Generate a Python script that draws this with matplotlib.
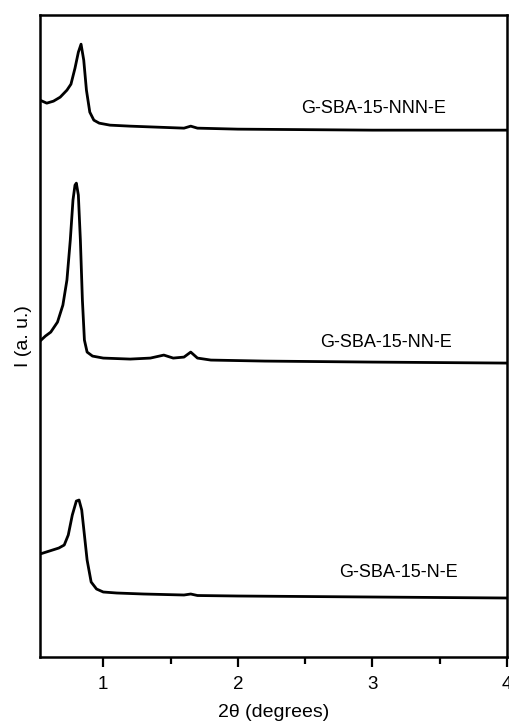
import matplotlib.pyplot as plt

# 2theta positions and intensities (arbitrary units, curves already offset)
x_nnn = [0.53, 0.58, 0.63, 0.68, 0.73, 0.76, 0.79, 0.815, 0.835, 0.855, 0.875,
         0.90, 0.93, 0.97, 1.05, 1.2, 1.4, 1.6, 1.65, 1.7, 2.0, 2.5, 3.0, 4.0]
i_nnn = [557, 554, 556, 560, 567, 573, 589, 605, 613, 597, 567,
         545, 537, 534, 532, 531, 530, 529, 531, 529, 528, 527.5, 527, 527]

x_nn = [0.53, 0.57, 0.61, 0.66, 0.70, 0.73, 0.755, 0.775, 0.79, 0.80, 0.815,
        0.83, 0.845, 0.86, 0.88, 0.92, 1.0, 1.2, 1.35, 1.45, 1.52, 1.6, 1.65,
        1.7, 1.8, 2.2, 3.0, 4.0]
i_nn = [316, 321, 325, 335, 352, 377, 417, 457, 472, 474, 462,
        417, 357, 317, 305, 301, 299, 298, 299, 302, 299, 300, 305,
        299, 297, 296, 295, 294]

x_n = [0.53, 0.6, 0.67, 0.71, 0.74, 0.77, 0.80, 0.82, 0.84, 0.86, 0.88,
       0.91, 0.95, 1.0, 1.1, 1.3, 1.6, 1.65, 1.7, 2.0, 3.0, 4.0]
i_n = [103, 106, 109, 112, 122, 142, 156, 157, 147, 122, 97,
       75, 68, 65, 64, 63, 62, 63, 61.5, 61, 60, 59]

labels = ["G-SBA-15-NNN-E", "G-SBA-15-NN-E", "G-SBA-15-N-E"]
label_x = [3.01, 3.10, 3.19]
label_y = [549, 315, 85]

plt.rcParams['font.family'] = ['Liberation Sans', 'DejaVu Sans']

fig = plt.figure(figsize=(5.09, 7.23), dpi=100)
ax = fig.add_axes([0.0786, 0.0913, 0.9174, 0.8877])

for xs, ys in [(x_nnn, i_nnn), (x_nn, i_nn), (x_n, i_n)]:
    ax.plot(xs, ys, color='black', lw=2.0)

for lab, lx, ly in zip(labels, label_x, label_y):
    ax.text(lx, ly, lab, ha='center', va='center', fontsize=13)

ax.set_xlim(0.53, 4.0)
ax.set_ylim(0, 642)
ax.set_xticks([1, 2, 3, 4])
ax.set_xticks([1.5, 2.5, 3.5], minor=True)
ax.set_yticks([])
ax.tick_params(axis='x', which='major', length=7.5, width=1.6, labelsize=13.5, pad=6)
ax.tick_params(axis='x', which='minor', length=5, width=1.6)
for sp in ax.spines.values():
    sp.set_linewidth(1.8)

ax.set_xlabel("2\u03b8 (degrees)", fontsize=14, labelpad=8)
ax.set_ylabel("I (a. u.)", fontsize=14, labelpad=6)

fig.savefig("out.png", dpi=100)
